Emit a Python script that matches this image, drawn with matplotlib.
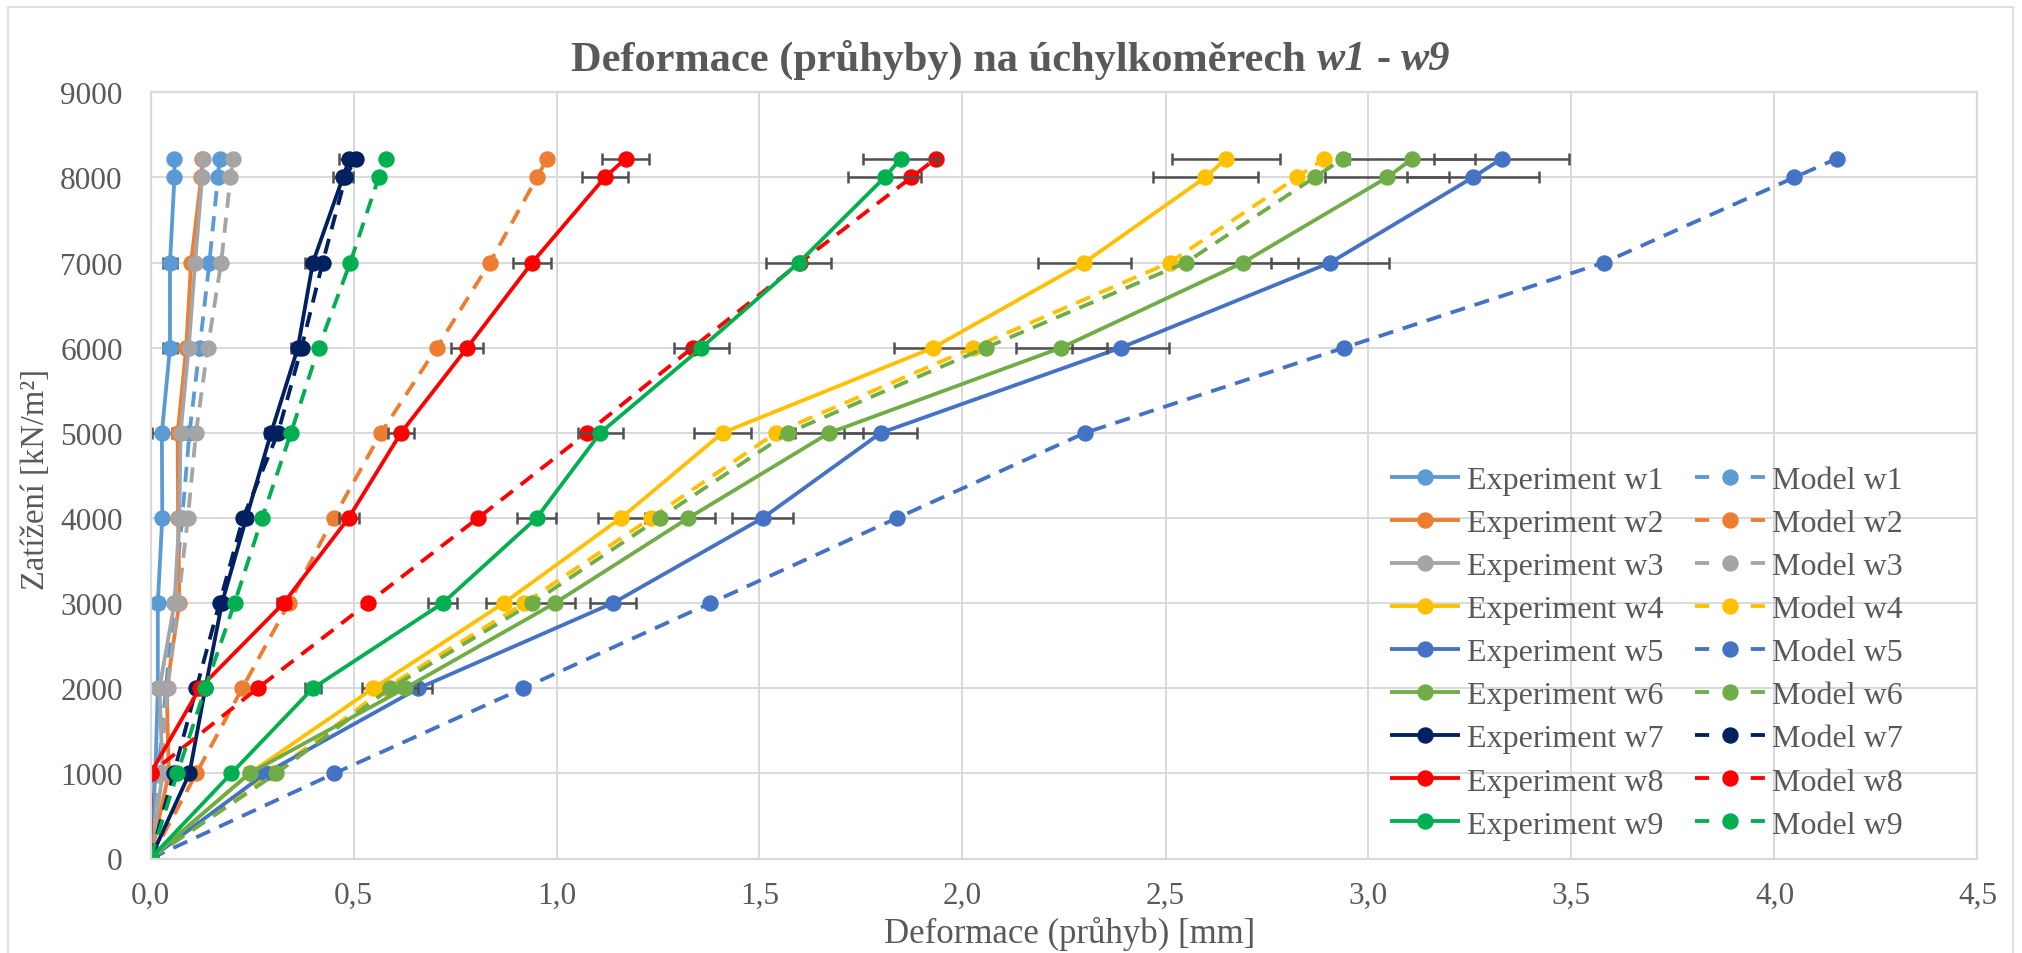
import matplotlib
matplotlib.use("Agg")
import matplotlib.pyplot as plt
from matplotlib.lines import Line2D
from matplotlib.patches import Rectangle
from matplotlib.ticker import FuncFormatter
from matplotlib.transforms import IdentityTransform
import numpy as np

# ---------------- data ----------------
load = [0, 1000, 2000, 3000, 4000, 5000, 6000, 7000, 8000, 8220]

exp_w1 = [0, 0.012, 0.018, 0.018, 0.029, 0.028, 0.048, 0.048, 0.059, 0.059]
model_w1 = [0, 0.019, 0.038, 0.058, 0.078, 0.096, 0.121, 0.145, 0.166, 0.170]
exp_w2 = [0, 0.045, 0.040, 0.071, 0.068, 0.067, 0.088, 0.100, 0.125, 0.127]
model_w2 = [0, 0.113, 0.226, 0.341, 0.451, 0.568, 0.705, 0.836, 0.952, 0.977]
exp_w3 = [0, 0.030, 0.022, 0.059, 0.071, 0.074, 0.094, 0.110, 0.127, 0.130]
model_w3 = [0, 0.024, 0.042, 0.068, 0.092, 0.112, 0.141, 0.174, 0.197, 0.203]
exp_w4 = [0, 0.244, 0.549, 0.870, 1.159, 1.409, 1.928, 2.300, 2.598, 2.649]
model_w4 = [0, 0.300, 0.578, 0.921, 1.233, 1.540, 2.026, 2.510, 2.823, 2.891]
exp_w5 = [0, 0.283, 0.660, 1.139, 1.508, 1.799, 2.390, 2.906, 3.257, 3.328]
model_w5 = [0, 0.453, 0.918, 1.379, 1.839, 2.302, 2.940, 3.580, 4.049, 4.153]
exp_w6 = [0, 0.244, 0.627, 0.996, 1.325, 1.672, 2.243, 2.691, 3.046, 3.108]
model_w6 = [0, 0.310, 0.590, 0.940, 1.254, 1.570, 2.057, 2.550, 2.867, 2.937]
exp_w7 = [0, 0.096, 0.135, 0.176, 0.236, 0.297, 0.363, 0.400, 0.474, 0.490]
model_w7 = [0, 0.057, 0.113, 0.170, 0.228, 0.314, 0.372, 0.424, 0.480, 0.505]
exp_w8 = [0, 0.000, 0.121, 0.328, 0.488, 0.617, 0.780, 0.940, 1.119, 1.170]
model_w8 = [0, 0.000, 0.264, 0.535, 0.807, 1.075, 1.335, 1.600, 1.874, 1.934]
exp_w9 = [0, 0.199, 0.400, 0.720, 0.951, 1.108, 1.357, 1.597, 1.808, 1.848]
model_w9 = [0, 0.066, 0.135, 0.207, 0.275, 0.346, 0.414, 0.492, 0.562, 0.580]

# custom error bar half-widths for w1 (others use Excel percentage bars)
err_w1 = [0, 0.020, 0.0, 0.012, 0.0, 0.024, 0.018, 0.018, 0.0, 0.0]
ERR_PCT = 0.05

series_names = ["w1", "w2", "w3", "w4", "w5", "w6", "w7", "w8", "w9"]
exp_data = [exp_w1, exp_w2, exp_w3, exp_w4, exp_w5, exp_w6, exp_w7, exp_w8, exp_w9]
model_data = [model_w1, model_w2, model_w3, model_w4, model_w5, model_w6, model_w7, model_w8, model_w9]
colors = ["#5B9BD5", "#ED7D31", "#A5A5A5", "#FFC000", "#4472C4",
          "#70AD47", "#002060", "#FF0000", "#00B050"]

x_ticks = [0.0, 0.5, 1.0, 1.5, 2.0, 2.5, 3.0, 3.5, 4.0, 4.5]
y_ticks = [0, 1000, 2000, 3000, 4000, 5000, 6000, 7000, 8000, 9000]

title_main = "Deformace (průhyby) na úchylkoměrech"
title_it1 = "w1"
title_mid = "-"
title_it2 = "w9"
xlabel = "Deformace (průhyb) [mm]"
ylabel = "Zatížení [kN/m²]"

# ---------------- style ----------------
W, H = 2022, 954
L, R, T, B = 150.5, 1977.5, 93.3, 859.5
FONT = ["Liberation Serif", "DejaVu Serif"]
TXT = "#595959"
GRID = "#D9D9D9"
LW = 2.75
MS = 10.8
DASH = (0, (4.0, 2.6))

plt.rcParams["font.family"] = FONT

fig = plt.figure(figsize=(W / 100, H / 100), dpi=100)
ax = fig.add_axes([L / W, (H - B) / H, (R - L) / W, (B - T) / H])

ax.set_xlim(0, 4.5)
ax.set_ylim(0, 9000)
ax.set_xticks(x_ticks)
ax.set_yticks(y_ticks)
ax.xaxis.set_major_formatter(FuncFormatter(lambda v, _: f"{v:.1f}".replace(".", ",")))
ax.yaxis.set_major_formatter(FuncFormatter(lambda v, _: f"{int(round(v))}"))
ax.tick_params(axis="both", length=0, labelsize=22.5, labelcolor=TXT)
ax.tick_params(axis="x", pad=16)
ax.tick_params(axis="y", pad=20)
ax.grid(True, color=GRID, linewidth=1.4, zorder=0)
ax.set_axisbelow(True)
for s in ax.spines.values():
    s.set_color(GRID)
    s.set_linewidth(1.6)

z = 2.0
for i, name in enumerate(series_names):
    c = colors[i]
    xe = np.array(exp_data[i], dtype=float)
    if name == "w1":
        err = np.array(err_w1)
    else:
        err = ERR_PCT * xe
    ax.errorbar(xe, load, xerr=err, fmt="none", ecolor="#505050", elinewidth=1.8,
                capsize=4, capthick=1.8, zorder=z)
    ax.plot(xe, load, color=c, lw=LW, marker="o", ms=MS, mec=c, mfc=c,
            solid_capstyle="round", zorder=z + 0.001)
    z += 0.01
    ax.plot(model_data[i], load, color=c, lw=LW, marker="o", ms=MS, mec=c, mfc=c,
            linestyle=DASH, dash_capstyle="butt", zorder=z)
    z += 0.01

# ---------------- legend ----------------
exp_handles = [Line2D([], [], color=c, lw=LW, marker="o", ms=MS, solid_capstyle="butt")
               for c in colors]
model_handles = [Line2D([], [], color=c, lw=LW, marker="o", ms=MS,
                        linestyle=(0, (3.7, 10.9)), dash_capstyle="butt")
                 for c in colors]
labels = [f"Experiment {n}" for n in series_names] + [f"Model {n}" for n in series_names]
leg = ax.legend(exp_handles + model_handles, labels, ncol=2, frameon=False,
                fontsize=23, handlelength=2.2, handletextpad=0.2, columnspacing=1.0,
                labelspacing=0.43, numpoints=1, borderpad=0, borderaxespad=0,
                loc="upper left", bbox_to_anchor=(1390 / W, 1 - 466.5 / H),
                bbox_transform=fig.transFigure)
for t in leg.get_texts():
    t.set_color(TXT)

# ---------------- labels & title ----------------
fig.text(1070 / W, 1 - 934 / H, xlabel, ha="center", va="center", fontsize=25, color=TXT)
fig.text(36 / W, 1 - 480 / H, ylabel, ha="center", va="center", rotation=90,
         fontsize=23.5, color=TXT)

renderer = fig.canvas.get_renderer()
TS = 30.5


def tw(s, style):
    t = fig.text(0, 0, s, fontsize=TS, fontweight="bold", style=style)
    w = t.get_window_extent(renderer).width
    t.remove()
    return w


space = tw("a a", "normal") - tw("aa", "normal")
pieces = [(title_main, "normal"), (title_it1, "italic"), (title_mid, "normal"), (title_it2, "italic")]
widths = [tw(s, st) for s, st in pieces]
total = sum(widths) + space * (len(pieces) - 1)
x0 = W / 2 - total / 2
base_y = H - 70.5
for (s, st), w in zip(pieces, widths):
    fig.text(x0, base_y, s, fontsize=TS, fontweight="bold", style=st, color=TXT,
             ha="left", va="baseline", transform=IdentityTransform())
    x0 += w + space

# chart-area border
fig.add_artist(Rectangle((8 / W, -0.05), (2013 - 8) / W, 1.05 - 8 / H,
                         transform=fig.transFigure, fill=False, edgecolor=GRID, lw=1.2))

fig.savefig("out.png", dpi=100)
